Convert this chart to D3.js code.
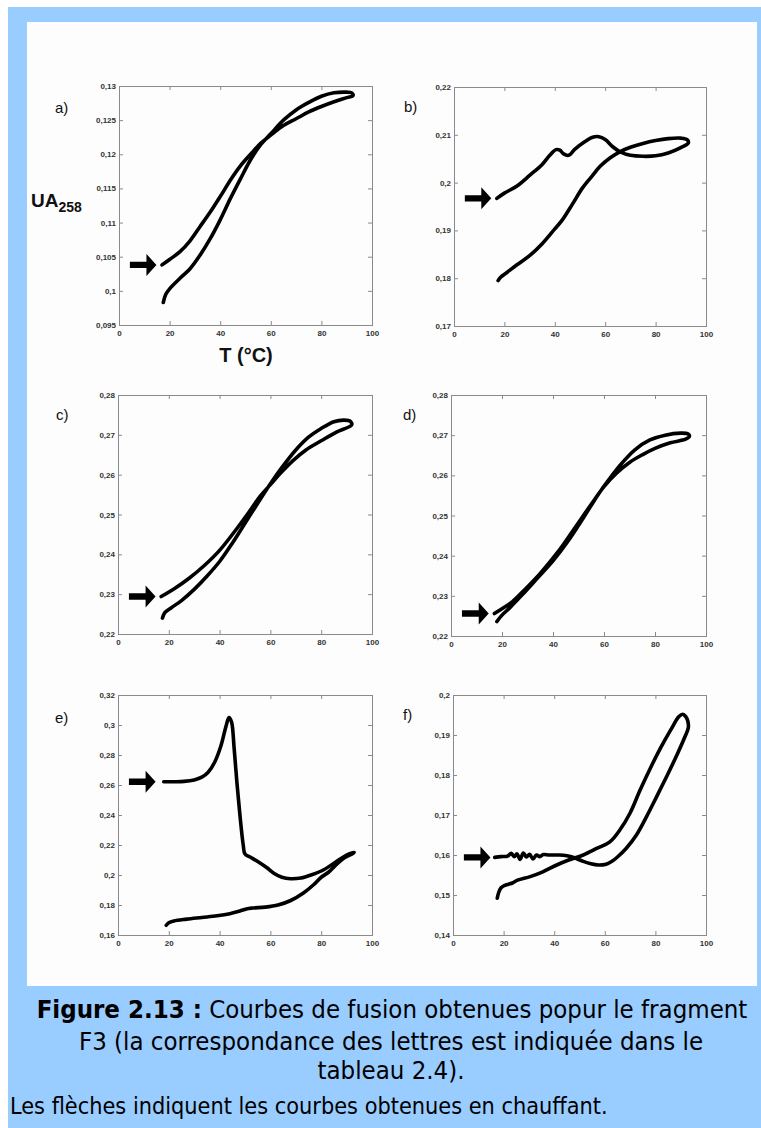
<!DOCTYPE html>
<html><head><meta charset="utf-8">
<script src="https://cdn.jsdelivr.net/npm/d3@7"></script>
<style>body{margin:0;background:#fff}svg{display:block}</style>
</head><body><svg id="c" width="761" height="1128"></svg>
<script>
// ---------- DATA (T in °C, absorbance UA258) ----------
const panelLetters = ["a)", "b)", "c)", "d)", "e)", "f)"];
const xTicks = [0, 20, 40, 60, 80, 100];

const yTicksA = [0.095, 0.1, 0.105, 0.11, 0.115, 0.12, 0.125, 0.13];
const yTicksB = [0.17, 0.18, 0.19, 0.2, 0.21, 0.22];
const yTicksC = [0.22, 0.23, 0.24, 0.25, 0.26, 0.27, 0.28];
const yTicksD = [0.22, 0.23, 0.24, 0.25, 0.26, 0.27, 0.28];
const yTicksE = [0.16, 0.18, 0.2, 0.22, 0.24, 0.26, 0.28, 0.3, 0.32];
const yTicksF = [0.14, 0.15, 0.16, 0.17, 0.18, 0.19, 0.2];

const aHeat = [[17,0.1038],[20,0.1046],[24,0.1057],[28,0.1073],[32,0.1094],[36,0.1115],[40,0.1138],[44,0.1162],[48,0.1183],[52,0.1200],[56,0.1216],[60,0.1228],[65,0.1242],[70,0.1252],[75,0.1262],[80,0.1270],[85,0.1277],[90,0.1283],[92.5,0.1286]];
const aCool = [[92.5,0.1286],[92,0.1290],[90,0.1291],[85,0.1290],[80,0.1285],[75,0.1276],[70,0.1265],[65,0.1250],[60,0.1230],[56,0.1214],[52,0.1192],[48,0.1164],[44,0.1135],[40,0.1104],[36,0.1076],[32,0.1052],[28,0.1032],[24,0.1018],[20,0.1003],[18.5,0.0995],[17.5,0.0983]];

const bHeat = [[17,0.1967],[20,0.1978],[25,0.1993],[30,0.2015],[35,0.2038],[38,0.2057],[40.5,0.2069],[42,0.2068],[43.5,0.2060],[45.5,0.2057],[48,0.2070],[52,0.2086],[55,0.2095],[57.5,0.2096],[60,0.2090],[63,0.2075],[66,0.2064],[70,0.2057],[75,0.2055],[80,0.2056],[85,0.2062],[90,0.2073],[93,0.2083]];
const bCool = [[93,0.2083],[92.5,0.2090],[90,0.2093],[85,0.2092],[80,0.2088],[75,0.2082],[70,0.2074],[66,0.2065],[62,0.2052],[58,0.2034],[55,0.2015],[51,0.1989],[47,0.1955],[43,0.1922],[40,0.1903],[35,0.1872],[30,0.1847],[25,0.1828],[21,0.1812],[18.5,0.1802],[17.5,0.1795]];

const cHeat = [[17,0.2294],[22,0.2313],[28,0.2340],[34,0.2372],[40,0.2410],[46,0.2458],[52,0.2510],[56,0.2546],[60,0.2575],[64,0.2604],[69,0.2636],[74,0.2662],[80,0.2685],[86,0.2707],[92,0.2725]];
const cCool = [[92,0.2725],[91.5,0.2734],[89,0.2737],[85,0.2733],[80,0.2716],[75,0.2694],[70,0.2662],[65,0.2622],[60,0.2577],[55,0.2528],[50,0.2478],[45,0.2428],[40,0.2382],[35,0.2345],[30,0.2312],[25,0.2284],[21,0.2266],[18.5,0.2254],[17.5,0.2240]];

const dHeat = [[17,0.2256],[20,0.2268],[24,0.2285],[29,0.2316],[35,0.2356],[42,0.2410],[48,0.2464],[55,0.2528],[60,0.2572],[65,0.2606],[70,0.2632],[75,0.2651],[80,0.2667],[86,0.2681],[92,0.2690],[93.5,0.2697]];
const dCool = [[93.5,0.2697],[93,0.2703],[90,0.2705],[84,0.2700],[78,0.2688],[72,0.2663],[67,0.2630],[62,0.2590],[58,0.2555],[52,0.2495],[46,0.2437],[40,0.2387],[34,0.2345],[28,0.2303],[23,0.2270],[20,0.2252],[18,0.2236]];

const eHeat = [[18,0.2622],[22,0.2622],[26,0.2624],[30,0.2634],[33,0.2652],[35.5,0.2685],[38,0.2750],[40.5,0.2860],[42.5,0.2990],[43.7,0.3050],[44.7,0.3020],[45.7,0.2850],[46.8,0.2620],[48,0.2400],[49.3,0.2200],[50,0.2140],[52,0.2120],[55,0.2090],[58.5,0.2050],[61.5,0.2010],[64.5,0.1985],[68,0.1975],[72,0.1980],[76,0.2000],[81,0.2035],[86,0.2090],[90,0.2133],[93,0.2150]];
const eCool = [[93,0.2150],[92,0.2138],[89.5,0.2118],[86,0.2070],[83,0.2020],[80,0.1985],[77,0.1935],[73,0.1880],[68,0.1830],[63,0.1800],[58,0.1786],[53,0.1780],[50.5,0.1774],[48,0.1760],[44,0.1742],[39,0.1728],[33,0.1717],[27,0.1706],[22,0.1694],[20,0.1682],[19,0.1665]];

const fHeat = [[16.5,0.1594],[19,0.1596],[21.5,0.1597],[23,0.1604],[24.2,0.1596],[25.3,0.1603],[26.5,0.1589],[27.8,0.1605],[29,0.1595],[30.3,0.1602],[31.6,0.1590],[33,0.1600],[34.3,0.1596],[35.7,0.1601],[38,0.1600],[42,0.1600],[45,0.1598],[48,0.1593],[51.5,0.1584],[54.5,0.1578],[57.5,0.1575],[60.5,0.1577],[63,0.1585],[65,0.1595],[68.5,0.1617],[72.5,0.1650],[76.5,0.1696],[80.5,0.1746],[84.5,0.1797],[88.5,0.1850],[91.5,0.1893],[93,0.1918]];
const fCool = [[93,0.1918],[92.8,0.1935],[92,0.1946],[90.8,0.1952],[89.3,0.1946],[86,0.1912],[82,0.1867],[78,0.1817],[74,0.1763],[70,0.1705],[66,0.1663],[62,0.1633],[57,0.1617],[51.5,0.1600],[46,0.1588],[41,0.1575],[35.5,0.1558],[30.5,0.1546],[25.5,0.1537],[23.5,0.1530],[22,0.1527],[20.5,0.1524],[19,0.1518],[18,0.1505],[17.5,0.1492]];

const captionBold = "Figure 2.13 :";
const captionLines = [" Courbes de fusion obtenues popur le fragment", "F3 (la correspondance des lettres est indiquée dans le", "tableau 2.4)."];
const noteText = "Les flèches indiquent les courbes obtenues en chauffant.";

// ---------- DRAWING ----------
const svg = d3.select('#c');
svg.append('rect').attr('x', 8).attr('y', 7).attr('width', 753).attr('height', 1121).attr('fill', '#99ccff');
svg.append('rect').attr('x', 27).attr('y', 22).attr('width', 730).attr('height', 964).attr('fill', '#fdfdfd');

const layout = [
  {x0:119, x1:372, y0:86,  y1:325, lx:55,  ly:113},
  {x0:454, x1:706, y0:87,  y1:326, lx:404, ly:112},
  {x0:118, x1:372, y0:395, y1:634, lx:56,  ly:420},
  {x0:451, x1:706, y0:395, y1:636, lx:403, ly:420},
  {x0:118, x1:372, y0:695, y1:935, lx:55,  ly:723},
  {x0:453, x1:706, y0:695, y1:935, lx:403, ly:720}
];
const yTickSets = [yTicksA, yTicksB, yTicksC, yTicksD, yTicksE, yTicksF];
const heats = [aHeat, bHeat, cHeat, dHeat, eHeat, fHeat];
const cools = [aCool, bCool, cCool, dCool, eCool, fCool];

const fmt = v => (+v.toFixed(4)).toString().replace('.', ',');

layout.forEach((L, i) => {
  const yt = yTickSets[i];
  const x = d3.scaleLinear().domain([0, 100]).range([L.x0, L.x1]);
  const y = d3.scaleLinear().domain([yt[0], yt[yt.length - 1]]).range([L.y1, L.y0]);
  const g = svg.append('g');

  const styleAxis = (sel, labels) => {
    sel.select('.domain').remove();
    sel.selectAll('.tick line').attr('stroke', '#8a8a8a').attr('stroke-width', 1);
    sel.selectAll('.tick text').attr('fill', '#333').attr('font-family', 'Liberation Sans, Arial, sans-serif')
      .attr('font-weight', 'bold').attr('font-size', 8);
    if (!labels) sel.selectAll('.tick text').remove();
  };
  g.append('g').attr('transform', `translate(0,${L.y1})`)
    .call(d3.axisBottom(x).tickValues(xTicks).tickSizeInner(-4).tickSizeOuter(0).tickPadding(5).tickFormat(d3.format('d')))
    .call(s => styleAxis(s, true));
  g.append('g').attr('transform', `translate(0,${L.y0})`)
    .call(d3.axisTop(x).tickValues(xTicks).tickSizeInner(-4).tickSizeOuter(0))
    .call(s => styleAxis(s, false));
  g.append('g').attr('transform', `translate(${L.x0},0)`)
    .call(d3.axisLeft(y).tickValues(yt).tickSizeInner(-4).tickSizeOuter(0).tickPadding(3).tickFormat(fmt))
    .call(s => styleAxis(s, true));
  g.append('g').attr('transform', `translate(${L.x1},0)`)
    .call(d3.axisRight(y).tickValues(yt).tickSizeInner(-4).tickSizeOuter(0))
    .call(s => styleAxis(s, false));

  g.append('rect').attr('x', L.x0 + 0.5).attr('y', L.y0 + 0.5)
    .attr('width', L.x1 - L.x0).attr('height', L.y1 - L.y0)
    .attr('fill', 'none').attr('stroke', '#8a8a8a').attr('stroke-width', 1);

  const line = d3.line().x(d => x(d[0])).y(d => y(d[1])).curve(d3.curveCatmullRom.alpha(0.5));
  const loop = heats[i].concat(cools[i].slice(1));
  g.append('path').attr('d', line(loop)).attr('fill', 'none').attr('stroke', '#000')
    .attr('stroke-width', 3.6).attr('stroke-linecap', 'round').attr('stroke-linejoin', 'round');

  // arrow pointing at start of heating curve
  const ay = y(heats[i][0][1]);
  const ax0 = x(4.3), ax1 = x(14.8), head = 10, hh = 11, sh = 3.2;
  g.append('path')
    .attr('d', `M${ax0},${ay - sh}L${ax1 - head},${ay - sh}L${ax1 - head},${ay - hh}L${ax1},${ay}L${ax1 - head},${ay + hh}L${ax1 - head},${ay + sh}L${ax0},${ay + sh}Z`)
    .attr('fill', '#000');

  svg.append('text').attr('x', L.lx).attr('y', L.ly).text(panelLetters[i])
    .attr('font-family', 'Liberation Sans, Arial, sans-serif').attr('font-size', 15).attr('fill', '#111');
});

// axis titles (panel a)
const ua = svg.append('text').attr('x', 31).attr('y', 207)
  .attr('font-family', 'Liberation Sans, Arial, sans-serif').attr('font-weight', 'bold').attr('font-size', 19).attr('fill', '#111');
ua.append('tspan').text('UA');
ua.append('tspan').attr('dy', 5).attr('font-size', 14).text('258');
svg.append('text').attr('x', 246).attr('y', 362).attr('text-anchor', 'middle')
  .attr('font-family', 'Liberation Sans, Arial, sans-serif').attr('font-weight', 'bold').attr('font-size', 20).attr('fill', '#111')
  .text('T (°C)');

// caption
const capFont = 'DejaVu Sans Condensed, DejaVu Sans, Verdana, sans-serif';
const capStretch = 'condensed';
const t1 = svg.append('text').attr('x', 392).attr('y', 1018).attr('text-anchor', 'middle')
  .attr('font-family', capFont).attr('font-stretch', capStretch).attr('font-size', 20).attr('fill', '#000');
t1.append('tspan').attr('font-weight', 'bold').text(captionBold);
t1.append('tspan').text(captionLines[0]);
const w1 = t1.node().getComputedTextLength();
const fs = 20 * 711 / w1;
t1.attr('font-size', fs);
svg.append('text').attr('x', 391).attr('y', 1050).attr('text-anchor', 'middle')
  .attr('font-family', capFont).attr('font-stretch', capStretch).attr('font-size', fs).attr('fill', '#000').text(captionLines[1]);
svg.append('text').attr('x', 391).attr('y', 1079).attr('text-anchor', 'middle')
  .attr('font-family', capFont).attr('font-stretch', capStretch).attr('font-size', fs).attr('fill', '#000').text(captionLines[2]);
const t4 = svg.append('text').attr('x', 10).attr('y', 1114)
  .attr('font-family', capFont).attr('font-stretch', capStretch).attr('font-size', 16).attr('fill', '#000').text(noteText);
const w4 = t4.node().getComputedTextLength();
t4.attr('font-size', 16 * 598 / w4);
</script></body></html>
